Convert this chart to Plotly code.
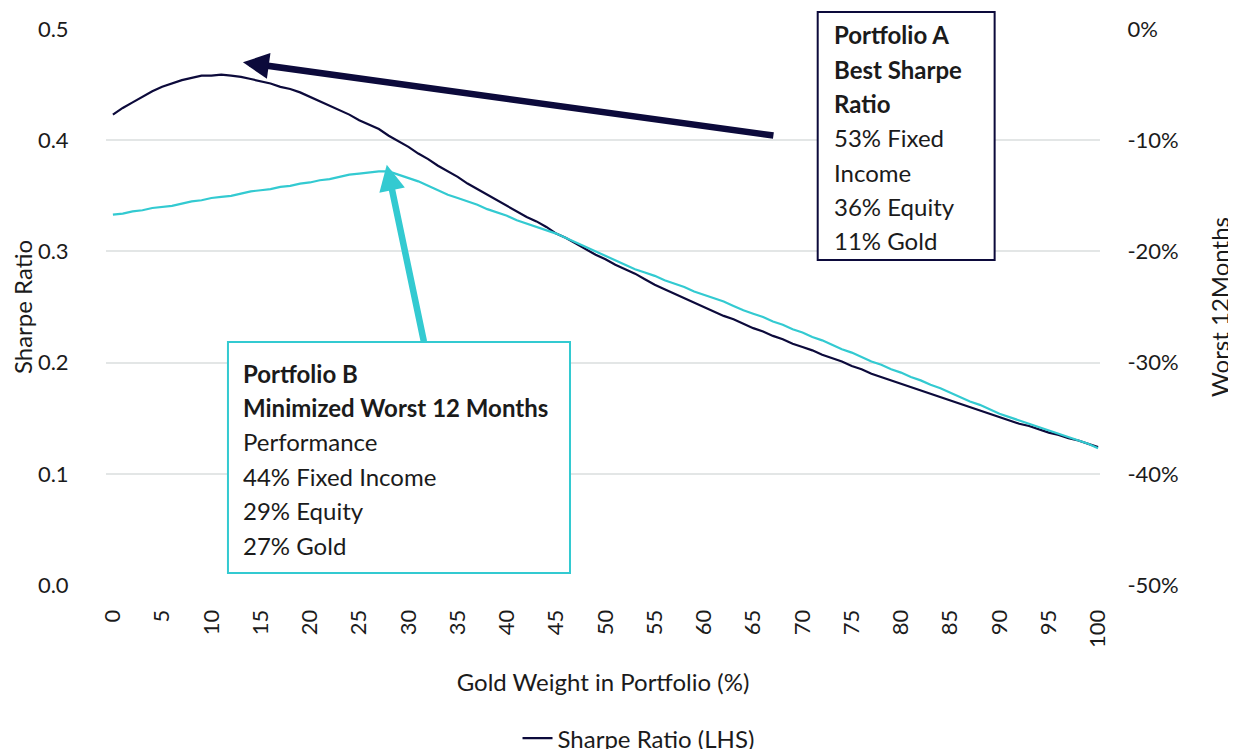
import plotly.graph_objects as go

# gold weight in portfolio (%)
gold_weight = list(range(0, 101))

# sharpe ratio (LHS)
sharpe_ratio = [
    0.423, 0.429, 0.434, 0.439, 0.444, 0.448, 0.451, 0.454, 0.456, 0.458,
    0.458, 0.459, 0.458, 0.457, 0.455, 0.453, 0.451, 0.448, 0.446, 0.443,
    0.439, 0.435, 0.431, 0.427, 0.423, 0.418, 0.414, 0.410, 0.404, 0.399,
    0.394, 0.388, 0.383, 0.377, 0.372, 0.367, 0.361, 0.356, 0.351, 0.346,
    0.341, 0.336, 0.331, 0.327, 0.322, 0.316, 0.312, 0.307, 0.302, 0.297,
    0.293, 0.288, 0.284, 0.280, 0.275, 0.270, 0.266, 0.262, 0.258, 0.254,
    0.250, 0.246, 0.242, 0.239, 0.235, 0.231, 0.228, 0.224, 0.221, 0.217,
    0.214, 0.211, 0.207, 0.204, 0.201, 0.197, 0.194, 0.190, 0.187, 0.184,
    0.181, 0.178, 0.175, 0.172, 0.169, 0.166, 0.163, 0.160, 0.157, 0.154,
    0.151, 0.148, 0.145, 0.143, 0.140, 0.137, 0.135, 0.132, 0.130, 0.127,
    0.124,
]

# worst 12 months performance (RHS)
worst_12m = [
    -0.167, -0.166, -0.164, -0.163, -0.161, -0.160, -0.159, -0.157, -0.155, -0.154,
    -0.152, -0.151, -0.150, -0.148, -0.146, -0.145, -0.144, -0.142, -0.141, -0.139,
    -0.138, -0.136, -0.135, -0.133, -0.131, -0.130, -0.129, -0.128, -0.128, -0.131,
    -0.134, -0.137, -0.141, -0.145, -0.149, -0.152, -0.155, -0.158, -0.162, -0.165,
    -0.168, -0.172, -0.175, -0.178, -0.181, -0.184, -0.188, -0.192, -0.196, -0.200,
    -0.204, -0.208, -0.212, -0.216, -0.219, -0.222, -0.226, -0.229, -0.232, -0.236,
    -0.239, -0.242, -0.245, -0.249, -0.253, -0.256, -0.259, -0.263, -0.266, -0.270,
    -0.273, -0.277, -0.280, -0.284, -0.288, -0.291, -0.295, -0.299, -0.302, -0.306,
    -0.309, -0.313, -0.316, -0.320, -0.323, -0.327, -0.331, -0.335, -0.338, -0.342,
    -0.346, -0.349, -0.352, -0.355, -0.358, -0.361, -0.364, -0.367, -0.370, -0.373,
    -0.377,
]

# right axis ticks (plain hyphen as in the original)
rhs_ticks = [0.0, -0.1, -0.2, -0.3, -0.4, -0.5]
rhs_labels = [f"{v:.0%}".replace("-0%", "0%") for v in rhs_ticks]

portfolio_a_lines = ["<b>Portfolio A</b>", "<b>Best Sharpe</b>", "<b>Ratio</b>",
                     "53% Fixed", "Income", "36% Equity", "11% Gold"]
portfolio_b_lines = ["<b>Portfolio B</b>", "<b>Minimized Worst 12 Months</b>",
                     "Performance", "44% Fixed Income", "29% Equity", "27% Gold"]

NAVY = "#0c0a3b"
TEAL = "#33cad1"
TEXT = "#1b1b1b"
FONT = "Lato, Noto Sans, sans-serif"

fig = go.Figure()
fig.add_trace(go.Scatter(x=gold_weight, y=sharpe_ratio, mode="lines",
                         name="Sharpe Ratio (LHS)",
                         line=dict(color=NAVY, width=2.2)))
fig.add_trace(go.Scatter(x=gold_weight, y=worst_12m, mode="lines",
                         name="Worst 12 Months (RHS)", yaxis="y2",
                         line=dict(color=TEAL, width=2.2)))

# annotation boxes
fig.add_shape(type="rect", xref="paper", yref="paper",
              x0=0.716, x1=0.894, y0=0.5845, y1=1.0306,
              line=dict(color=NAVY, width=2), fillcolor="white", layer="above")
fig.add_shape(type="rect", xref="paper", yref="paper",
              x0=0.1227, x1=0.4668, y0=0.0216, y1=0.437,
              line=dict(color=TEAL, width=2), fillcolor="white", layer="above")

annotations = []
for i, txt in enumerate(portfolio_a_lines):
    annotations.append(dict(text=txt, xref="paper", yref="paper", x=0.730, y=1.0306,
                            xanchor="left", yanchor="middle", yshift=-23 - 34.3 * i,
                            showarrow=False, font=dict(size=24, color=TEXT)))
for i, txt in enumerate(portfolio_b_lines):
    annotations.append(dict(text=txt, xref="paper", yref="paper", x=0.1358, y=0.437,
                            xanchor="left", yanchor="middle", yshift=-31 - 34.4 * i,
                            showarrow=False, font=dict(size=24, color=TEXT)))

# arrows
annotations.append(dict(x=13.2, y=0.470, xref="x", yref="y",
                        ax=67.2, ay=0.404, axref="x", ayref="y",
                        text="", showarrow=True, arrowhead=2, arrowsize=0.8,
                        arrowwidth=6.5, arrowcolor=NAVY))
annotations.append(dict(x=27.8, y=0.378, xref="x", yref="y",
                        ax=31.6, ay=0.2176, axref="x", ayref="y",
                        text="", showarrow=True, arrowhead=2, arrowsize=0.8,
                        arrowwidth=6.5, arrowcolor=TEAL))

# page body adds an 8px offset, so the figure is 8px smaller than the window
fig.update_layout(
    width=1228, height=741,
    margin=dict(l=98, r=136, t=21, b=164, autoexpand=False),
    paper_bgcolor="white", plot_bgcolor="white",
    font=dict(family=FONT, size=23, color=TEXT),
    annotations=annotations,
    showlegend=True,
    legend=dict(orientation="v", xref="paper", yref="container",
                x=0.414, y=0.0445, xanchor="left", yanchor="top",
                font=dict(size=24, color=TEXT), bgcolor="rgba(0,0,0,0)"),
    xaxis=dict(range=[-0.7, 100.2], tickmode="linear", tick0=0, dtick=5,
               tickangle=-90, showgrid=False, zeroline=False, showline=False,
               ticks="outside", ticklen=15, tickcolor="rgba(0,0,0,0)",
               tickfont=dict(size=22), automargin=False,
               title=dict(text="Gold Weight in Portfolio (%)", standoff=27,
                          font=dict(size=24))),
    yaxis=dict(range=[0, 0.5], dtick=0.1, tickformat=".1f",
               showgrid=True, gridcolor="#e3e6e6", gridwidth=1.5,
               zeroline=False, showline=False, automargin=False,
               ticks="outside", ticklen=32, tickcolor="rgba(0,0,0,0)",
               tickfont=dict(size=22),
               title=dict(text="Sharpe Ratio", standoff=2, font=dict(size=24))),
    yaxis2=dict(range=[-0.5, 0], tickmode="array", tickvals=rhs_ticks,
                ticktext=rhs_labels,
                overlaying="y", side="right", showgrid=False, zeroline=False,
                showline=False, ticks="outside", ticklen=22, automargin=False,
                tickcolor="rgba(0,0,0,0)", tickfont=dict(size=22),
                title=dict(text="Worst 12Months", standoff=34, font=dict(size=24))),
)

fig.write_html("out.html")
